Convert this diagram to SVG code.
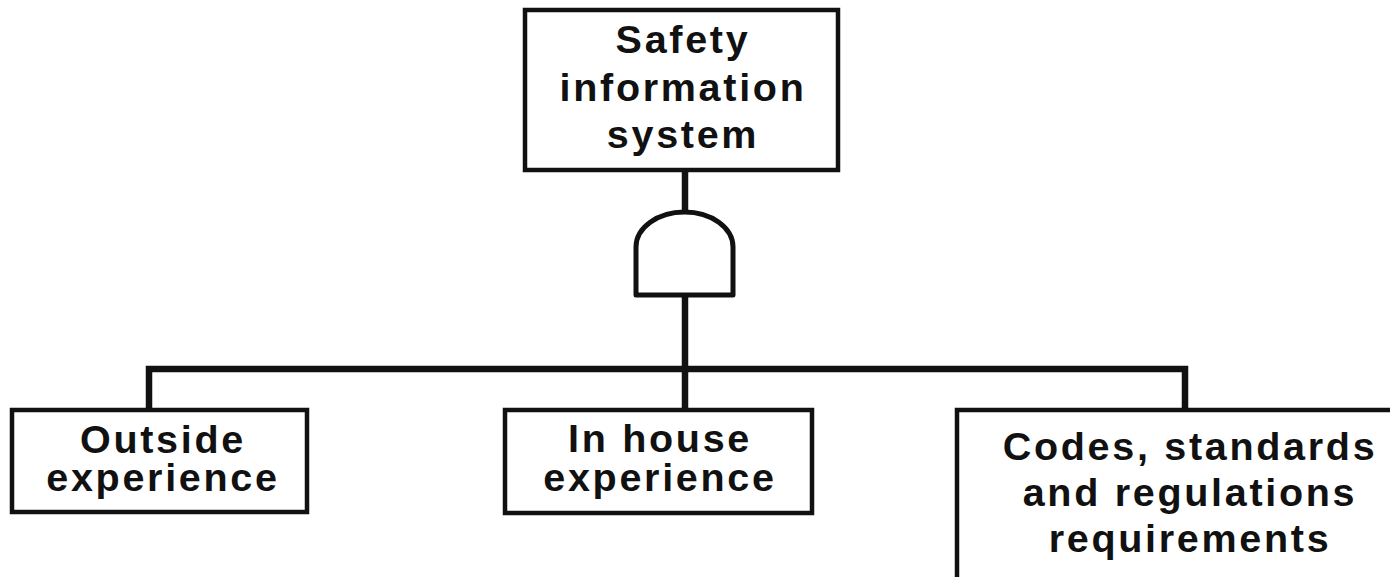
<svg xmlns="http://www.w3.org/2000/svg" width="1390" height="577" viewBox="0 0 1390 577">
  <style>
    .box { fill: #fff; stroke: #111; stroke-width: 4.5; }
    .wire { fill: none; stroke: #111; stroke-width: 6.5; }
    .gate { fill: #fff; stroke: #111; stroke-width: 5; stroke-linejoin: round; }
    .lbl { font-family: "Liberation Sans", Arial, Helvetica, sans-serif; font-weight: bold; font-size: 39.5px; letter-spacing: 2.7px; fill: #111; text-anchor: middle; }
  </style>
  <rect width="1390" height="577" fill="#fff"/>

  <!-- connectors -->
  <g id="connectors">
    <line class="wire" x1="685" y1="170" x2="685" y2="213"/>
    <line class="wire" x1="685" y1="295" x2="685" y2="410"/>
    <polyline class="wire" points="149,410 149,369 1185,369 1185,410"/>
  </g>

  <!-- AND gate -->
  <g id="and-gate">
    <path class="gate" d="M636,295 V247 A48.5,35 0 0 1 733,247 V295 Z"/>
  </g>

  <!-- top event -->
  <g id="safety-information-system">
    <rect class="box" x="525" y="10" width="313" height="160"/>
    <text class="lbl" x="683" y="53">Safety</text>
    <text class="lbl" x="683" y="100.5">information</text>
    <text class="lbl" x="683" y="148">system</text>
  </g>

  <g id="outside-experience">
    <rect class="box" x="12" y="410" width="295" height="102"/>
    <text class="lbl" x="163" y="452.5">Outside</text>
    <text class="lbl" x="163" y="491">experience</text>
  </g>

  <g id="in-house-experience">
    <rect class="box" x="505" y="410" width="307" height="103"/>
    <text class="lbl" x="660" y="451.5">In house</text>
    <text class="lbl" x="660" y="491">experience</text>
  </g>

  <g id="codes-standards-regulations">
    <path class="box" d="M1392,410 H957 V580"/>
    <text class="lbl" x="1190" y="460">Codes, standards</text>
    <text class="lbl" x="1190" y="506">and regulations</text>
    <text class="lbl" x="1190" y="552">requirements</text>
  </g>
</svg>
